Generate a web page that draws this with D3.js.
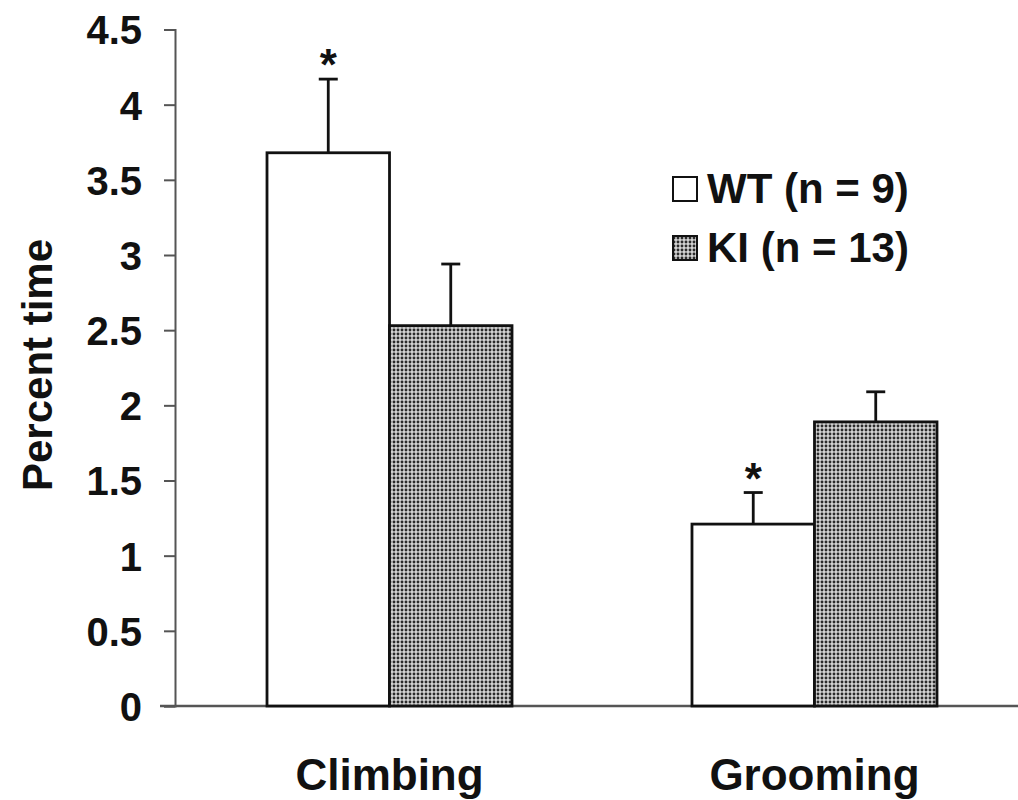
<!DOCTYPE html>
<html><head><meta charset="utf-8">
<script src="https://cdn.jsdelivr.net/npm/d3@7"></script>
<style>body{margin:0;background:#fff}svg{display:block}text{font-family:"Liberation Sans",Arial,sans-serif;font-weight:bold;fill:#111}</style>
</head><body><svg id="c" width="1018" height="800"></svg>
<script>
const categories = ["Climbing", "Grooming"];
const seriesNames = ["WT (n = 9)", "KI (n = 13)"];
const wtValues = [3.68, 1.21];
const wtErrors = [0.49, 0.21];
const kiValues = [2.53, 1.89];
const kiErrors = [0.41, 0.20];
const significant = [true, true]; // asterisk on WT bars
const yTicks = [0, 0.5, 1, 1.5, 2, 2.5, 3, 3.5, 4, 4.5];
const yTickLabels = ["0", "0.5", "1", "1.5", "2", "2.5", "3", "3.5", "4", "4.5"];

const svg = d3.select("#c");
const defs = svg.append("defs");
const pat = defs.append("pattern").attr("id","dots").attr("patternUnits","userSpaceOnUse").attr("width",4).attr("height",4);
pat.append("rect").attr("width",4).attr("height",4).attr("fill","#d4d4d4");
pat.append("circle").attr("cx",2).attr("cy",2).attr("r",1.45).attr("fill","#2a2a2a");

const y = d3.scaleLinear().domain([0, 4.5]).range([706, 29.5]);
const x = d3.scaleBand().domain(categories).range([175, 1029]).paddingInner(0.4235).paddingOuter(0.2165);
const xs = d3.scaleBand().domain(["WT","KI"]).range([0, x.bandwidth()]);

// y axis
const yAxis = d3.axisLeft(y).tickValues(yTicks).tickFormat((d,i)=>yTickLabels[i]).tickSize(11).tickPadding(22);
const gy = svg.append("g").attr("transform","translate(175,0)").call(yAxis);
gy.select(".domain").attr("stroke","#555").attr("stroke-width",2);
gy.selectAll(".tick line").attr("stroke","#555").attr("stroke-width",2);
gy.selectAll(".tick text").style("font-size","40px").attr("dy","0.36em").attr("fill","#111");

// x axis line
svg.append("line").attr("x1",160).attr("x2",1018).attr("y1",y(0)).attr("y2",y(0)).attr("stroke","#555").attr("stroke-width",2.5);

const data = categories.map((c,i)=>[
  {cat:c, s:"WT", v:wtValues[i], e:wtErrors[i], sig:significant[i]},
  {cat:c, s:"KI", v:kiValues[i], e:kiErrors[i], sig:false}
]).flat();

const bars = svg.append("g");
bars.selectAll("rect").data(data).join("rect")
  .attr("x", d=>x(d.cat)+xs(d.s))
  .attr("y", d=>y(d.v))
  .attr("width", xs.bandwidth())
  .attr("height", d=>y(0)-y(d.v))
  .attr("fill", d=>d.s==="WT"?"#fff":"url(#dots)")
  .attr("stroke","#111").attr("stroke-width",2.8);

const eb = svg.append("g").attr("stroke","#111").attr("stroke-width",2.8);
data.forEach(d=>{
  const cx = x(d.cat)+xs(d.s)+xs.bandwidth()/2;
  eb.append("line").attr("x1",cx).attr("x2",cx).attr("y1",y(d.v)).attr("y2",y(d.v+d.e));
  eb.append("line").attr("x1",cx-9.5).attr("x2",cx+9.5).attr("y1",y(d.v+d.e)).attr("y2",y(d.v+d.e));
  if(d.sig){
    svg.append("text").attr("x",cx).attr("y",y(d.v+d.e)+1).attr("text-anchor","middle").style("font-size","44px").text("*");
  }
});

// x labels
svg.selectAll(".xl").data(categories).join("text").attr("class","xl")
  .attr("x", d=>x(d)+x.bandwidth()/2).attr("y",790)
  .attr("text-anchor","middle").style("font-size","44px").text(d=>d);

// y label
svg.append("text").attr("transform","translate(52,365) rotate(-90)").attr("text-anchor","middle")
  .style("font-size","42px").text("Percent time");

// legend
const lg = svg.append("g");
seriesNames.forEach((n,i)=>{
  const yy = 189 + i*59;
  lg.append("rect").attr("x",673).attr("y",yy-12).attr("width",24).attr("height",24)
    .attr("fill", i===0?"#fff":"url(#dots)").attr("stroke","#111").attr("stroke-width",2);
  lg.append("text").attr("x",707).attr("y",yy+14).style("font-size","42px").text(n);
});
</script></body></html>
